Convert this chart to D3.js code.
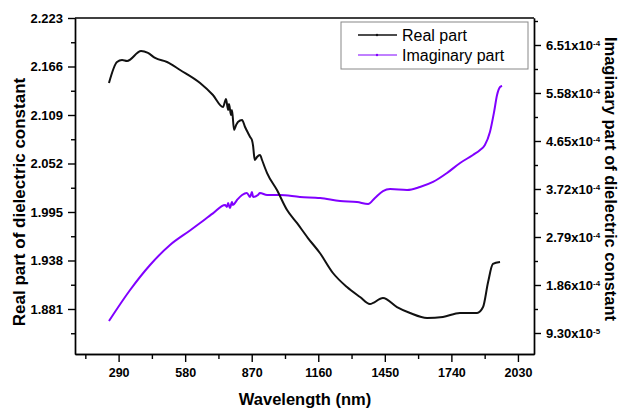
<!DOCTYPE html>
<html>
<head>
<meta charset="utf-8">
<script src="https://cdn.jsdelivr.net/npm/d3@7"></script>
<style>
body { margin: 0; background: #fff; }
svg { font-family: "Liberation Sans", Arial, sans-serif; }
.axis path, .axis line { stroke: #000; stroke-width: 1.4; }
.axis text { font-size: 13px; font-weight: bold; fill: #000; }
</style>
</head>
<body>
<div id="chart"></div>
<script>
// wavelength (nm) and real part
var waveReal = [248, 283, 305, 327, 388, 418, 449, 501, 558, 645, 701, 745, 758, 767, 771, 780, 784, 793, 802, 810, 828, 841, 854, 863, 871, 876, 880, 884, 893, 906, 915, 928, 937, 980, 1024, 1067, 1115, 1167, 1224, 1285, 1342, 1385, 1442, 1503, 1560, 1634, 1703, 1777, 1852, 1878, 1900, 1921, 1952];
var realPart = [2.1466, 2.1713, 2.1736, 2.1725, 2.1842, 2.1819, 2.1760, 2.1713, 2.1619, 2.1466, 2.1325, 2.1184, 2.1278, 2.1149, 2.1219, 2.1090, 2.1149, 2.0914, 2.0972, 2.1008, 2.1031, 2.0949, 2.0878, 2.0831, 2.0796, 2.0726, 2.0620, 2.0561, 2.0596, 2.0620, 2.0561, 2.0467, 2.0408, 2.0208, 1.9973, 1.9821, 1.9644, 1.9468, 1.9233, 1.9068, 1.8951, 1.8869, 1.8939, 1.8833, 1.8763, 1.8704, 1.8716, 1.8763, 1.8763, 1.8833, 1.9127, 1.9339, 1.9362];

// wavelength (nm) and imaginary part (x1e-4)
var waveImag = [248, 340, 427, 514, 601, 645, 701, 754, 762, 767, 775, 784, 788, 806, 828, 849, 863, 871, 876, 897, 906, 937, 993, 1080, 1168, 1255, 1329, 1377, 1407, 1442, 1473, 1547, 1603, 1660, 1721, 1778, 1834, 1865, 1886, 1908, 1926, 1939, 1952, 1961];
var imagPart = [1.1625, 1.763, 2.2475, 2.635, 2.916, 3.061, 3.247, 3.41, 3.371, 3.449, 3.352, 3.468, 3.41, 3.507, 3.604, 3.6425, 3.565, 3.662, 3.565, 3.604, 3.6425, 3.604, 3.604, 3.565, 3.546, 3.4875, 3.468, 3.429, 3.546, 3.681, 3.72, 3.701, 3.759, 3.856, 4.03, 4.224, 4.379, 4.476, 4.5725, 4.824, 5.212, 5.541, 5.696, 5.716];

var xTicks = [290, 580, 870, 1160, 1450, 1740, 2030];
var leftTicks = [2.223, 2.166, 2.109, 2.052, 1.995, 1.938, 1.881];
var rightTicks = [6.51, 5.58, 4.65, 3.72, 2.79, 1.86, 0.93];
var rightLabels = [["6.51", "-4"], ["5.58", "-4"], ["4.65", "-4"], ["3.72", "-4"], ["2.79", "-4"], ["1.86", "-4"], ["9.30", "-5"]];

var width = 620, height = 410;
var pLeft = 75, pRight = 534, pTop = 18, pBottom = 354;

var svg = d3.select("#chart").append("svg").attr("width", width).attr("height", height);

var x = d3.scaleLinear().domain([100, 2100]).range([pLeft, pRight]);
var yL = d3.scaleLinear().domain([1.8281, 2.223]).range([pBottom, pTop]);
var yR = d3.scaleLinear().domain([0.523, 7.033]).range([pBottom, pTop]);

// minor ticks half way between the majors
var xMinor = xTicks.map(function(d) { return d - 145; });
var leftMinor = leftTicks.map(function(d) { return d - 0.0285; });
var rightMinor = rightTicks.map(function(d) { return d + 0.465; });

svg.append("g").attr("class", "axis").attr("transform", "translate(0," + pBottom + ")")
  .call(d3.axisBottom(x).tickValues(xMinor).tickSize(5).tickFormat("").tickSizeOuter(0));
svg.append("g").attr("class", "axis").attr("transform", "translate(0," + pBottom + ")")
  .call(d3.axisBottom(x).tickValues(xTicks).tickSize(8).tickPadding(6).tickFormat(d3.format("d")).tickSizeOuter(0))
  .selectAll("text").style("font-size", "12.5px");

svg.append("g").attr("class", "axis").attr("transform", "translate(" + pLeft + ",0)")
  .call(d3.axisLeft(yL).tickValues(leftMinor).tickSize(4).tickFormat("").tickSizeOuter(0));
svg.append("g").attr("class", "axis").attr("transform", "translate(" + pLeft + ",0)")
  .call(d3.axisLeft(yL).tickValues(leftTicks).tickSize(7).tickPadding(5).tickFormat(d3.format(".3f")).tickSizeOuter(0));

svg.append("g").attr("class", "axis").attr("transform", "translate(" + pRight + ",0)")
  .call(d3.axisRight(yR).tickValues(rightMinor).tickSize(4).tickFormat("").tickSizeOuter(0));
var rAxis = svg.append("g").attr("class", "axis").attr("transform", "translate(" + pRight + ",0)")
  .call(d3.axisRight(yR).tickValues(rightTicks).tickSize(7).tickFormat("").tickSizeOuter(0));
rAxis.selectAll(".tick").each(function(d, i) {
  var t = d3.select(this).append("text").attr("x", 12).attr("dy", "0.36em").attr("text-anchor", "start");
  t.append("tspan").text(rightLabels[i][0] + "x10");
  t.append("tspan").attr("dy", "-0.55em").style("font-size", "8px").text(rightLabels[i][1]);
});

// top frame line
svg.append("line").attr("x1", pLeft).attr("x2", pRight).attr("y1", pTop).attr("y2", pTop)
  .attr("stroke", "#000").attr("stroke-width", 1.4);

var realLine = d3.line().curve(d3.curveMonotoneX)
  .x(function(d, i) { return x(waveReal[i]); })
  .y(function(d) { return yL(d); });
var imagLine = d3.line().curve(d3.curveMonotoneX)
  .x(function(d, i) { return x(waveImag[i]); })
  .y(function(d) { return yR(d); });

svg.append("path").datum(imagPart).attr("d", imagLine)
  .attr("fill", "none").attr("stroke", "#8000ff").attr("stroke-width", 2);
svg.append("path").datum(realPart).attr("d", realLine)
  .attr("fill", "none").attr("stroke", "#111").attr("stroke-width", 2);

// axis titles
svg.append("text").attr("transform", "translate(25,202) rotate(-90)")
  .attr("text-anchor", "middle").style("font-size", "17px").style("font-weight", "bold")
  .text("Real part of dielectric constant");
svg.append("text").attr("transform", "translate(605,179) rotate(90)")
  .attr("text-anchor", "middle").style("font-size", "16.5px").style("font-weight", "bold")
  .text("Imaginary part of dielectric constant");
svg.append("text").attr("x", 305).attr("y", 405)
  .attr("text-anchor", "middle").style("font-size", "16.5px").style("font-weight", "bold")
  .text("Wavelength (nm)");

// legend
var lg = svg.append("g");
lg.append("rect").attr("x", 341).attr("y", 22).attr("width", 187).attr("height", 47)
  .attr("fill", "#fff").attr("stroke", "#888").attr("stroke-width", 1);
var legendItems = [["Real part", "#111", 1.5], ["Imaginary part", "#8000ff", 1]];
legendItems.forEach(function(d, i) {
  var yy = 35 + i * 20;
  lg.append("line").attr("x1", 358).attr("x2", 397).attr("y1", yy).attr("y2", yy)
    .attr("stroke", d[1]).attr("stroke-width", d[2]);
  lg.append("circle").attr("cx", 377).attr("cy", yy).attr("r", 1.2).attr("fill", d[1]);
  lg.append("text").attr("x", 402).attr("y", yy + 5.5).style("font-size", "16px").text(d[0]);
});
</script>
</body>
</html>
